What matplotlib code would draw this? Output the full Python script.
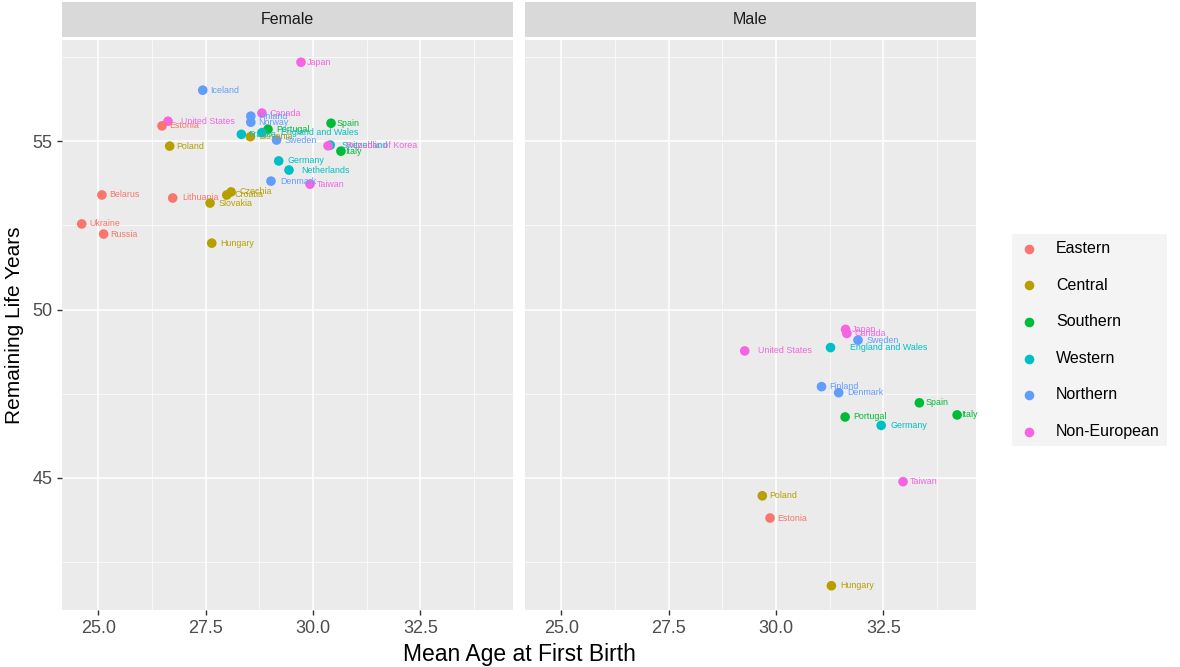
import matplotlib
matplotlib.use("Agg")
import matplotlib.pyplot as plt
from matplotlib.ticker import MultipleLocator, FormatStrFormatter

plt.rcParams["font.family"] = ["Liberation Sans", "DejaVu Sans"]

# Region colours (ggplot default hue palette)
regions = ["Eastern", "Central", "Southern", "Western", "Northern", "Non-European"]
region_colors = ["#F8766D", "#B79F00", "#00BA38", "#00BFC4", "#619CFF", "#F564E3"]

# Female panel
female_country = ["Japan", "Iceland", "Canada", "Finland", "Norway", "United States",
                  "Estonia", "Spain", "Portugal", "England and Wales", "Slovenia",
                  "France", "Sweden", "Switzerland", "Republic of Korea", "Italy",
                  "Poland", "Germany", "Netherlands", "Denmark", "Taiwan", "Czechia",
                  "Croatia", "Slovakia", "Lithuania", "Belarus", "Ukraine", "Russia",
                  "Hungary"]
female_region = ["Non-European", "Northern", "Non-European", "Northern", "Northern",
                 "Non-European", "Eastern", "Southern", "Southern", "Western", "Central",
                 "Western", "Northern", "Western", "Non-European", "Southern",
                 "Central", "Western", "Western", "Northern", "Non-European", "Central",
                 "Central", "Central", "Eastern", "Eastern", "Eastern", "Eastern",
                 "Central"]
female_age = [29.72, 27.43, 28.81, 28.55, 28.55, 26.62, 26.48, 30.42, 28.95, 28.81,
              28.54, 28.33, 29.15, 30.40, 30.35, 30.65, 26.66, 29.20, 29.44, 29.02,
              29.93, 28.09, 27.99, 27.60, 26.73, 25.08, 24.61, 25.12, 27.64]
female_life = [57.34, 56.51, 55.83, 55.74, 55.56, 55.59, 55.45, 55.53, 55.35, 55.25,
               55.13, 55.20, 55.03, 54.88, 54.86, 54.70, 54.85, 54.41, 54.14, 53.81,
               53.72, 53.49, 53.40, 53.16, 53.31, 53.40, 52.54, 52.24, 51.97]

# Male panel
male_country = ["Japan", "Canada", "Sweden", "United States", "England and Wales",
                "Finland", "Denmark", "Spain", "Italy", "Portugal", "Germany",
                "Taiwan", "Poland", "Estonia", "Hungary"]
male_region = ["Non-European", "Non-European", "Northern", "Non-European", "Western",
               "Northern", "Northern", "Southern", "Southern", "Southern", "Western",
               "Non-European", "Central", "Eastern", "Central"]
male_age = [31.62, 31.65, 31.91, 29.27, 31.27, 31.06, 31.46, 33.34, 34.22, 31.61,
            32.45, 32.96, 29.68, 29.86, 31.29]
male_life = [49.41, 49.29, 49.09, 48.77, 48.87, 47.71, 47.53, 47.23, 46.87, 46.81,
             46.56, 44.89, 44.47, 43.81, 41.80]

panels = [
    ("Female", female_country, female_region, female_age, female_life),
    ("Male", male_country, male_region, male_age, male_life),
]

color_of = dict(zip(regions, region_colors))

W, H = 1180, 667
fig = plt.figure(figsize=(W / 100, H / 100), dpi=100)
fig.patch.set_facecolor("white")
renderer = fig.canvas.get_renderer()

panel_x = [62, 525]
panel_w = 451
panel_top, panel_bot = 40, 610
strip_top = 2

axes = []
labels = []
for (title, country, region, age, life), px in zip(panels, panel_x):
    ax = fig.add_axes([px / W, 1 - panel_bot / H, panel_w / W, (panel_bot - panel_top) / H])
    ax.set_facecolor("#EBEBEB")
    for sp in ax.spines.values():
        sp.set_visible(False)
    ax.set_xlim(24.15, 34.66)
    ax.set_ylim(41.08, 58.0)
    ax.xaxis.set_major_locator(MultipleLocator(2.5))
    ax.xaxis.set_minor_locator(MultipleLocator(1.25))
    ax.yaxis.set_major_locator(MultipleLocator(5))
    ax.yaxis.set_minor_locator(MultipleLocator(2.5))
    ax.grid(which="major", color="white", lw=1.1)
    ax.grid(which="minor", color="white", lw=0.5)
    ax.set_axisbelow(True)
    ax.tick_params(which="minor", length=0)
    ax.tick_params(which="major", length=3.5, width=1, color="#333333",
                   labelsize=13, labelcolor="#4D4D4D")
    ax.xaxis.set_major_formatter(FormatStrFormatter("%.1f"))

    cols = [color_of[r] for r in region]
    ax.scatter(age, life, c=cols, s=48, zorder=3, linewidths=0)
    for c, r, a, l in zip(country, region, age, life):
        t = ax.annotate(c, (a, l), xytext=(0, 0), textcoords="offset points",
                        fontsize=6.4, color=color_of[r], va="center", ha="left", zorder=4)
        labels.append(t)

    # facet strip
    sax = fig.add_axes([px / W, 1 - (panel_top - 3) / H, panel_w / W, (panel_top - 3 - strip_top) / H])
    sax.set_facecolor("#D9D9D9")
    sax.set_xticks([])
    sax.set_yticks([])
    for sp in sax.spines.values():
        sp.set_visible(False)
    sax.text(0.5, 0.5, title, ha="center", va="center", fontsize=11.5, color="#1A1A1A",
             transform=sax.transAxes)
    axes.append(ax)

# labels are shifted right by a quarter of their own width (like hjust = -0.25)
for t in labels:
    w = t.get_window_extent(renderer).width
    t.xyann = (0.25 * w * 72 / 100, 0)

axes[1].tick_params(axis="y", which="both", left=False, labelleft=False)

axes[0].set_ylabel("Remaining Life Years", fontsize=15, color="black", labelpad=6)
fig.text((62 + 977) / 2 / W, 1 - 654 / H, "Mean Age at First Birth", ha="center",
         va="center", fontsize=16.5)

# legend
handles = [axes[1].scatter([], [], color=c, s=48, linewidths=0) for c in region_colors]
leg = fig.legend(handles, regions, loc="center left", bbox_to_anchor=(1012 / W, 1 - 340 / H),
                 frameon=True, fontsize=11.5, handletextpad=1.1, labelspacing=1.35,
                 borderpad=0.45, borderaxespad=0, handlelength=1.2)
leg.get_frame().set_facecolor("#F2F2F2")
leg.get_frame().set_edgecolor("none")
leg.get_frame().set_boxstyle("square", pad=0)

fig.savefig("out.png", dpi=100)
